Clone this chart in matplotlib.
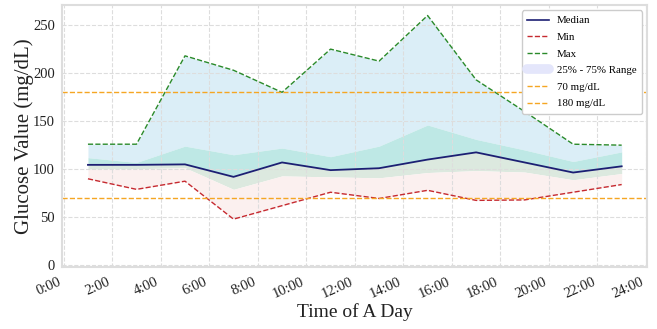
import matplotlib.pyplot as plt
from matplotlib.lines import Line2D

# hourly glucose summary (readings every 2 h, at odd hours)
hours = [1, 3, 5, 7, 9, 11, 13, 15, 17, 19, 21, 23]
median_vals = [104.5, 104.5, 105, 92, 107, 99, 101, 110, 117.5, 107, 96.5, 103]
min_vals = [90, 79, 87.5, 48, 62, 76, 69.5, 78, 67.5, 68, 76, 84]
max_vals = [126, 126, 218, 203, 180, 225, 212.5, 260, 193, 160, 126, 125]
q75_vals = [112, 107, 124, 115, 122, 113, 124, 146, 131, 120, 108, 118]
q25_vals = [100, 100.5, 101.5, 79, 93, 92, 91, 96.5, 98.5, 97, 89, 95.5]

tick_hours = list(range(0, 25, 2))
tick_labels = [f"{h}:00" for h in tick_hours]
low_limit, high_limit = 70, 180

plt.rcParams['font.family'] = ['Liberation Serif', 'DejaVu Serif']

fig = plt.figure(figsize=(6.57, 3.29), dpi=100)
ax = fig.add_axes([0.094, 0.188, 0.891, 0.797])

# shaded bands
ax.fill_between(hours, q75_vals, max_vals, color='#dbeef7', lw=0)
ax.fill_between(hours, median_vals, q75_vals, color='#bee8e5', lw=0)
ax.fill_between(hours, q25_vals, median_vals, color='#dce9df', lw=0)
ax.fill_between(hours, min_vals, q25_vals, color='#fbf0ef', lw=0)

ax.plot(hours, median_vals, color='#1c1f73', lw=1.3)
ax.plot(hours, min_vals, color='#c62a30', lw=1.0, ls='--')
ax.plot(hours, max_vals, color='#2a8a2a', lw=1.0, ls='--')
ax.axhline(low_limit, color='#f5a623', lw=1.0, ls='--')
ax.axhline(high_limit, color='#f5a623', lw=1.0, ls='--')

ax.set_xlim(-0.08, 24.05)
ax.set_ylim(-2, 271)
ax.set_xticks(tick_hours)
ax.set_xticklabels(tick_labels, rotation=24, ha='right')
ax.set_yticks(range(0, 251, 50))
ax.tick_params(labelsize=10.5, length=0, colors='#222222')
ax.tick_params(axis='x', pad=6)
ax.tick_params(axis='y', pad=5)
ax.grid(True, ls='--', color='#dddddd', lw=0.8)
for s in ax.spines.values():
    s.set_color('#dddddd')
    s.set_linewidth(1.5)

ax.set_xlabel('Time of A Day', fontsize=14, color='#222222', labelpad=2)
ax.set_ylabel('Glucose Value (mg/dL)', fontsize=15, color='#222222', labelpad=-1)

handles = [
    Line2D([], [], color='#1c1f73', lw=1.2),
    Line2D([], [], color='#c62a30', lw=1.0, ls='--'),
    Line2D([], [], color='#2a8a2a', lw=1.0, ls='--'),
    Line2D([], [], color='#e4e6fb', lw=7, solid_capstyle='round'),
    Line2D([], [], color='#f5a623', lw=1.0, ls='--'),
    Line2D([], [], color='#f5a623', lw=1.0, ls='--'),
]
labels = ['Median', 'Min', 'Max', '25% - 75% Range', '70 mg/dL', '180 mg/dL']
ax.legend(handles, labels, loc='upper right', fontsize=7.8, frameon=True,
          edgecolor='#cccccc', framealpha=1, labelspacing=0.65, borderpad=0.5,
          handletextpad=0.7)

fig.savefig('out.png', dpi=100)
